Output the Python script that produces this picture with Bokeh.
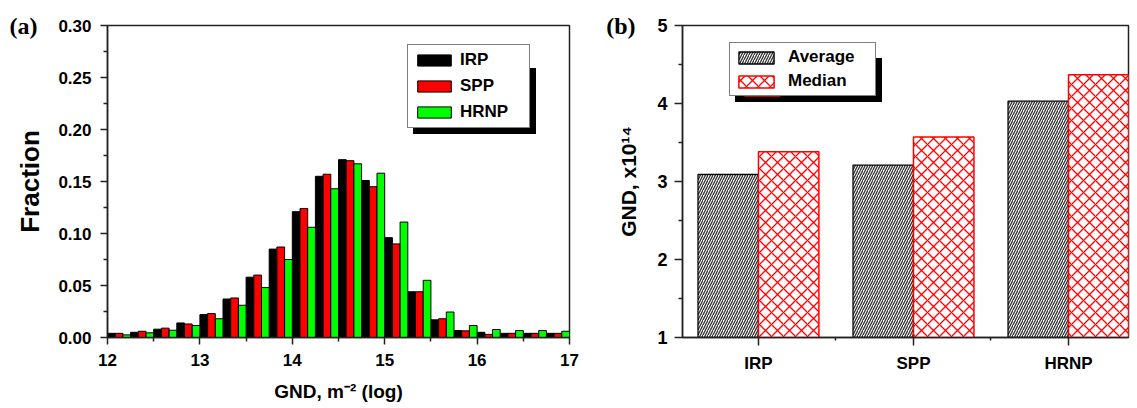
from bokeh.plotting import figure
from bokeh.models import (Range1d, FixedTicker, Legend, LegendItem, LinearAxis,
                          ColumnDataSource, PrintfTickFormatter)
from bokeh.layouts import row
from bokeh.embed import file_html
from bokeh.resources import INLINE
from bokeh.transform import dodge

# ---------------- data: panel (a) ----------------
bin_start = [12.0, 12.25, 12.5, 12.75, 13.0, 13.25, 13.5, 13.75, 14.0, 14.25,
             14.5, 14.75, 15.0, 15.25, 15.5, 15.75, 16.0, 16.25, 16.5, 16.75]
irp = [0.004, 0.005, 0.008, 0.014, 0.022, 0.037, 0.058, 0.085, 0.121, 0.155,
       0.171, 0.151, 0.096, 0.044, 0.017, 0.0067, 0.005, 0.004, 0.004, 0.004]
spp = [0.004, 0.006, 0.009, 0.013, 0.023, 0.038, 0.060, 0.087, 0.124, 0.157,
       0.170, 0.145, 0.090, 0.044, 0.018, 0.0064, 0.003, 0.004, 0.004, 0.004]
hrnp = [0.0025, 0.0045, 0.007, 0.0115, 0.018, 0.031, 0.048, 0.075, 0.106, 0.143,
        0.167, 0.158, 0.111, 0.055, 0.0245, 0.0115, 0.0077, 0.0067, 0.0067, 0.006]
x_ticks_a = [12, 13, 14, 15, 16, 17]
x_minor_a = [12.5, 13.5, 14.5, 15.5, 16.5]
y_ticks_a = [0.0, 0.05, 0.10, 0.15, 0.20, 0.25, 0.30]
y_minor_a = [0.025, 0.075, 0.125, 0.175, 0.225, 0.275]

# ---------------- data: panel (b) ----------------
categories = ["IRP", "SPP", "HRNP"]
cat_pos = [1, 2, 3]
average = [3.09, 3.21, 4.03]
median = [3.38, 3.57, 4.37]
y_ticks_b = [1, 2, 3, 4, 5]
y_minor_b = [1.5, 2.5, 3.5, 4.5]
x_minor_b = [1.5, 2.5]

FONT = "Liberation Sans"
AX = "#222222"


def style_axis(ax, tick_out=7, minor_out=4):
    ax.axis_line_color = AX
    ax.axis_line_width = 1.5
    ax.major_tick_line_color = AX
    ax.major_tick_line_width = 1.5
    ax.minor_tick_line_color = AX
    ax.minor_tick_line_width = 1.5
    ax.major_tick_in = 0
    ax.major_tick_out = tick_out
    ax.minor_tick_in = 0
    ax.minor_tick_out = minor_out
    ax.major_label_text_font = FONT
    ax.major_label_text_font_style = "bold"
    ax.major_label_text_font_size = "17px"
    ax.major_label_text_color = "black"
    ax.axis_label_text_font = FONT
    ax.axis_label_text_font_style = "bold"
    ax.axis_label_text_color = "black"


def panel_tag(text, tick, standoff):
    # an outer, invisible axis whose single tick label is the panel tag
    ax = LinearAxis(ticker=FixedTicker(ticks=[tick]), major_label_overrides={tick: text},
                    axis_line_color=None, major_tick_line_color=None,
                    minor_tick_line_color=None, major_tick_out=0, major_tick_in=0,
                    major_label_standoff=standoff,
                    major_label_text_font="Liberation Serif",
                    major_label_text_font_style="bold",
                    major_label_text_font_size="24px",
                    major_label_text_color="black")
    return ax


def make_legend(items, loc, shadow, **kw):
    return Legend(items=items, location=loc, margin=0,
                  label_text_font=FONT, orientation="vertical",
                  border_line_color="black", border_line_width=1.5,
                  background_fill_color="black" if shadow else "white",
                  background_fill_alpha=1.0, label_text_color="black", **kw)


# ================= panel (a) =================
p1 = figure(width=603, height=404, x_range=Range1d(12, 17), y_range=Range1d(0, 0.30),
            output_backend="svg", toolbar_location=None,
            min_border_left=107, min_border_right=34, min_border_top=25, min_border_bottom=67)
p1.grid.visible = False
p1.outline_line_color = AX
p1.outline_line_width = 1.5

src_a = ColumnDataSource(dict(bin=bin_start, irp=irp, spp=spp, hrnp=hrnp))
bw = 0.25 / 3
r_irp = p1.vbar(x=dodge("bin", bw * 0.5), top="irp", width=bw, source=src_a,
                fill_color="black", line_color="black", line_width=1)
r_spp = p1.vbar(x=dodge("bin", bw * 1.5), top="spp", width=bw, source=src_a,
                fill_color="#FF0000", line_color="black", line_width=1)
r_hrnp = p1.vbar(x=dodge("bin", bw * 2.5), top="hrnp", width=bw, source=src_a,
                 fill_color="#00FF00", line_color="black", line_width=1)

p1.xaxis.ticker = FixedTicker(ticks=x_ticks_a, minor_ticks=x_minor_a)
p1.yaxis.ticker = FixedTicker(ticks=y_ticks_a, minor_ticks=y_minor_a)
p1.yaxis.formatter = PrintfTickFormatter(format="%.2f")
for ax in p1.xaxis + p1.yaxis:
    style_axis(ax)
p1.xaxis.major_label_standoff = 9
p1.yaxis.major_label_standoff = 9
p1.xaxis.axis_label = "GND, m\u207b\u00b2 (log)"
p1.xaxis.axis_label_text_font_size = "19px"
p1.xaxis.axis_label_standoff = 12
p1.yaxis.axis_label = "Fraction"
p1.yaxis.axis_label_text_font_size = "26px"
p1.yaxis.axis_label_standoff = 10
p1.add_layout(panel_tag("(a)", y_ticks_a[-1], -25), "left")

leg_kw_a = dict(glyph_width=42, glyph_height=14, label_height=14, label_width=64,
                label_standoff=5, padding=5, spacing=6,
                label_text_font_size="17px", label_text_font_style="bold")
names_a = ["IRP", "SPP", "HRNP"]
rends_a = [r_irp, r_spp, r_hrnp]
shadow_a = make_legend([LegendItem(label=" ", renderers=[r]) for r in rends_a],
                       (306, 203), True, **leg_kw_a)
legend_a = make_legend([LegendItem(label=n, renderers=[r]) for n, r in zip(names_a, rends_a)],
                       (300, 209), False, **leg_kw_a)
p1.add_layout(shadow_a, "center")
p1.add_layout(legend_a, "center")

# ================= panel (b) =================
p2 = figure(width=532, height=404, x_range=Range1d(0.51, 3.387), y_range=Range1d(1, 5),
            output_backend="svg", toolbar_location=None,
            min_border_left=79, min_border_right=7, min_border_top=25, min_border_bottom=67)
p2.grid.visible = False
p2.outline_line_color = AX
p2.outline_line_width = 1.5

src_b = ColumnDataSource(dict(pos=cat_pos, average=average, median=median))
r_avg = p2.vbar(x=dodge("pos", -0.195), bottom=1, top="average", width=0.39, source=src_b,
                fill_color="white", line_color="black", line_width=1.3,
                hatch_pattern="/", hatch_color="#333333", hatch_scale=5, hatch_weight=1.3)
r_med = p2.vbar(x=dodge("pos", 0.195), bottom=1, top="median", width=0.39, source=src_b,
                fill_color="white", line_color="#FF0000", line_width=1.5,
                hatch_pattern="x", hatch_color="#FF0000", hatch_scale=12, hatch_weight=1.3)

p2.xaxis.ticker = FixedTicker(ticks=cat_pos, minor_ticks=x_minor_b)
p2.xaxis.major_label_overrides = {p: c for p, c in zip(cat_pos, categories)}
p2.yaxis.ticker = FixedTicker(ticks=y_ticks_b, minor_ticks=y_minor_b)
for ax in p2.xaxis + p2.yaxis:
    style_axis(ax, tick_out=8, minor_out=4)
p2.xaxis.minor_tick_out = 3
p2.xaxis.major_label_standoff = 8
p2.yaxis.major_label_standoff = 7
p2.yaxis.major_label_text_font_size = "18px"
p2.yaxis.axis_label = "GND, x10\u00b9\u2074"
p2.yaxis.axis_label_text_font_size = "21px"
p2.yaxis.axis_label_standoff = 14
p2.add_layout(panel_tag("(b)", y_ticks_b[-1], -21), "left")

leg_kw_b = dict(glyph_width=44, glyph_height=15, label_height=15, label_width=83,
                label_standoff=10, padding=4, spacing=4,
                label_text_font_size="17px", label_text_font_style="bold")
names_b = ["Average", "Median"]
rends_b = [r_avg, r_med]
shadow_b = make_legend([LegendItem(label=" ", renderers=[r]) for r in rends_b],
                       (53, 235), True, **leg_kw_b)
legend_b = make_legend([LegendItem(label=n, renderers=[r]) for n, r in zip(names_b, rends_b)],
                       (47, 241), False, **leg_kw_b)
p2.add_layout(shadow_b, "center")
p2.add_layout(legend_b, "center")

layout = row(p1, p2)
open("out.html", "w").write(file_html(layout, INLINE))
